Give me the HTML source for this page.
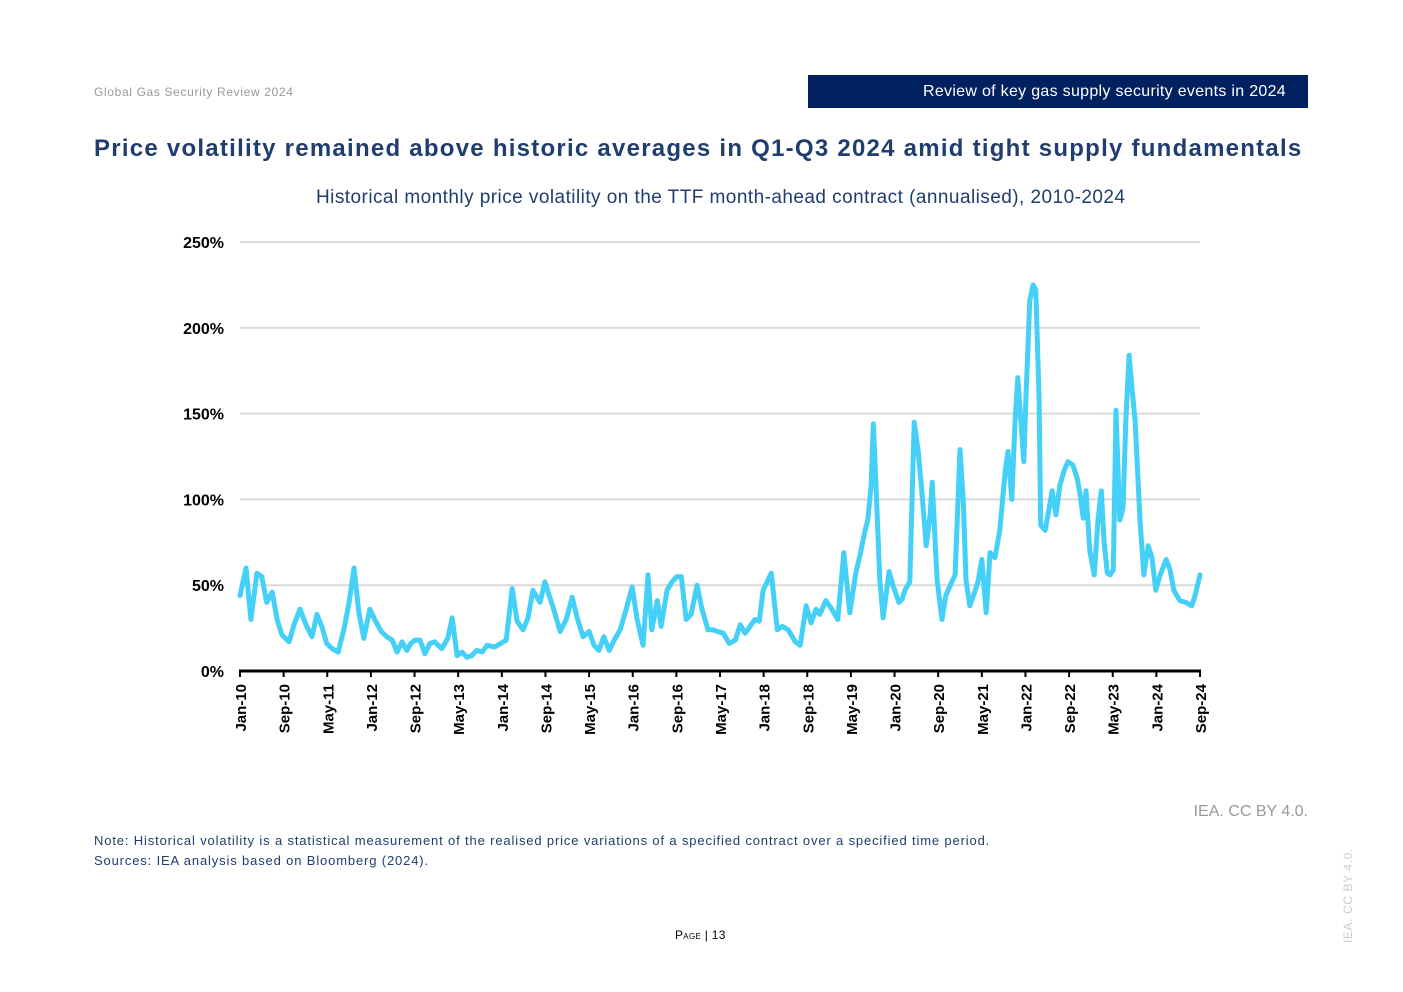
<!DOCTYPE html>
<html><head><meta charset="utf-8">
<style>
body{margin:0;width:1403px;height:992px;background:#fff;position:relative;overflow:hidden;font-family:"Liberation Sans",sans-serif;}
.abs{position:absolute;white-space:nowrap;}
</style></head><body>
<div class="abs" style="left:94px;top:85px;font-size:12px;color:#999;letter-spacing:0.65px;">Global Gas Security Review 2024</div>
<div class="abs" style="left:808px;top:75px;width:500px;height:33px;background:#002060;"></div>
<div class="abs" style="right:117px;top:83px;font-size:16px;color:#fff;letter-spacing:0.3px;">Review of key gas supply security events in 2024</div>
<div class="abs" style="left:94px;top:135px;font-size:24px;font-weight:bold;color:#1f3d6e;letter-spacing:1.25px;">Price volatility remained above historic averages in Q1-Q3 2024 amid tight supply fundamentals</div>
<div class="abs" style="left:316px;top:187px;font-size:19px;color:#1f3d6e;letter-spacing:0.45px;">Historical monthly price volatility on the TTF month-ahead contract (annualised), 2010-2024</div>
<svg id="chart" class="abs" style="left:0;top:0" width="1403" height="800"></svg>
<div class="abs" style="right:95px;top:803px;font-size:16px;color:#999;">IEA. CC BY 4.0.</div>
<div class="abs" style="left:94px;top:833px;font-size:13px;color:#1f3d6e;letter-spacing:0.85px;">Note: Historical volatility is a statistical measurement of the realised price variations of a specified contract over a specified time period.</div>
<div class="abs" style="left:94px;top:853px;font-size:13px;color:#1f3d6e;letter-spacing:0.85px;">Sources: IEA analysis based on Bloomberg (2024).</div>
<div class="abs" style="left:675px;top:928px;font-size:12px;color:#000;font-variant:small-caps;letter-spacing:0.3px;">Page | 13</div>
<div class="abs" style="left:1341px;top:943px;font-size:12px;color:#ccc;letter-spacing:0.6px;transform:rotate(-90deg);transform-origin:0 0;">IEA. CC BY 4.0.</div>
<script>
const months=[0,1.1,2.0,3.1,4.0,4.9,5.9,6.8,7.7,9.0,9.9,11.0,12.1,13.2,14.1,15.0,15.9,16.9,18.0,19.1,20.0,20.9,21.8,22.7,23.8,24.7,25.9,26.9,27.9,28.8,29.7,30.6,31.3,32.1,33.0,33.9,34.8,35.7,37.0,38.1,38.9,39.8,40.7,41.6,42.5,43.4,44.4,45.3,46.7,48.8,49.9,50.8,51.9,52.8,53.7,55.0,55.9,56.8,57.7,58.7,59.8,60.9,61.8,62.9,64.0,64.9,65.8,66.7,67.7,68.6,69.7,70.8,71.9,72.8,73.9,74.8,75.5,76.5,77.2,78.3,79.2,80.1,80.9,81.8,82.7,83.8,84.7,85.8,86.7,87.6,88.6,89.7,90.8,91.7,92.6,93.5,94.4,95.2,95.9,97.4,98.5,99.4,100.5,101.8,102.7,103.8,104.7,105.6,106.3,107.4,108.5,109.6,110.7,111.8,112.9,113.7,114.6,115.1,115.7,116.1,116.6,117.3,117.9,119.0,119.7,120.8,121.4,121.9,122.8,123.6,124.3,125.0,125.8,126.5,126.9,127.8,128.7,129.4,130.5,131.1,132.0,132.6,133.1,133.8,134.8,135.3,136.0,136.8,137.5,138.4,139.3,140.3,140.8,141.5,142.1,142.6,143.2,143.7,144.1,144.8,145.4,145.9,146.5,146.8,147.6,148.3,148.9,149.6,150.3,151.1,151.8,152.7,153.5,154.0,154.6,155.1,155.8,156.6,157.3,157.9,158.4,159.0,159.5,160.1,160.6,161.3,161.9,162.4,163.0,163.5,164.1,165.0,165.7,166.5,167.2,167.9,168.7,169.8,170.5,171.2,172.3,173.4,174.5,175.1,176];
const volatility=[44,60,30,57,55,40,46,30,21,17,27,36,27,20,33,26,16,13,11,25,40,60,34,19,36,30,23,20,18,11,17,12,16,18,18,10,16,17,13,19,31,9,11,8,9,12,11,15,14,18,48,29,24,31,47,40,52,43,34,23,30,43,31,20,23,15,12,20,12,18,24,36,49,30,15,56,24,41,26,47,52,55,55,30,33,50,36,24,24,23,22,16,18,27,22,26,30,29,47,57,24,26,24,17,15,38,28,36,33,41,36,30,69,34,57,68,82,88,108,144,108,53,31,58,50,40,42,47,52,145,129,105,73,90,110,53,30,44,52,56,129,99,53,38,47,52,65,34,69,66,82,117,128,100,146,171,144,122,160,216,225,222,158,85,82,94,105,91,108,117,122,120,112,103,89,105,70,56,88,105,76,57,56,59,152,88,95,146,184,166,146,88,56,73,66,47,56,65,59,47,41,40,38,44,56];
const yTicks=[0,50,100,150,200,250];
const yTickLabels=["0%","50%","100%","150%","200%","250%"];
const xTickMonths=[0,8,16,24,32,40,48,56,64,72,80,88,96,104,112,120,128,136,144,152,160,168,176];
const xTickLabels=["Jan-10","Sep-10","May-11","Jan-12","Sep-12","May-13","Jan-14","Sep-14","May-15","Jan-16","Sep-16","May-17","Jan-18","Sep-18","May-19","Jan-20","Sep-20","May-21","Jan-22","Sep-22","May-23","Jan-24","Sep-24"];
const NS="http://www.w3.org/2000/svg",svg=document.getElementById('chart');
const X0=240,X1=1200,Y0=671,Y1=242;
const xs=m=>X0+(X1-X0)*m/176, ys=v=>Y0-(Y0-Y1)*v/250;
function mk(t,a){const e=document.createElementNS(NS,t);for(const k in a)e.setAttribute(k,a[k]);svg.appendChild(e);return e;}
yTicks.forEach((v,i)=>{
  if(v>0){const g=mk('line',{x1:X0,x2:X1,y1:ys(v),y2:ys(v),stroke:'#d9d9d9','stroke-width':2});
  
  }
  const t=mk('text',{x:224,y:ys(v)+6,'text-anchor':'end','font-size':16,'font-weight':'bold','font-family':'Liberation Sans, sans-serif'});
  t.textContent=yTickLabels[i];
  
  
});
const ax=mk('line',{x1:X0-1,x2:X1+1,y1:Y0,y2:Y0,stroke:'#000','stroke-width':3});


xTickMonths.forEach((m,i)=>{
  const tk=mk('line',{x1:xs(m),x2:xs(m),y1:Y0,y2:Y0+6,stroke:'#000','stroke-width':2});
  
  
  const t=mk('text',{x:0,y:0,'text-anchor':'end','font-size':15,'font-weight':'bold','font-family':'Liberation Sans, sans-serif',transform:`translate(${xs(m)+6},684) rotate(-90)`});
  t.textContent=xTickLabels[i];
  
  
});
const d=months.map((m,i)=>(i?'L':'M')+xs(m).toFixed(1)+','+ys(volatility[i]).toFixed(1)).join('');
const p=mk('path',{d:d,fill:'none',stroke:'#45d0f8','stroke-width':5,'stroke-linejoin':'round','stroke-linecap':'round'});


</script>
</body></html>
